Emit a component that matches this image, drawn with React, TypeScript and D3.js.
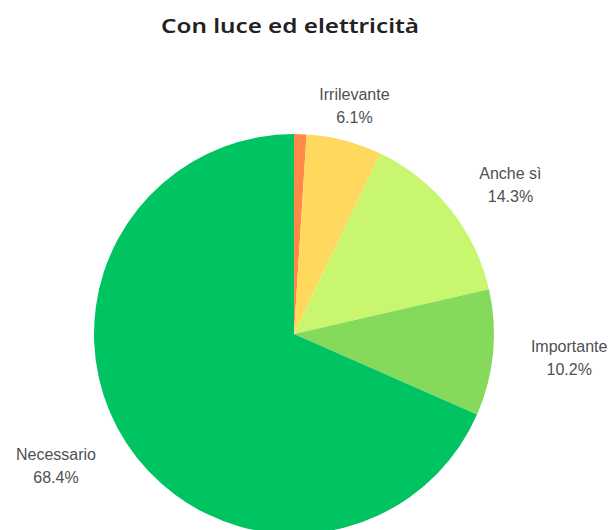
import React from "react";
import * as d3 from "d3";

const categories = ["", "Irrilevante", "Anche sì", "Importante", "Necessario"];
const values = [1.0, 6.1, 14.3, 10.2, 68.4];
const valueLabels = ["", "6.1%", "14.3%", "10.2%", "68.4%"];
const colors = ["#FF8A47", "#FFD95E", "#C9F66F", "#85DA5C", "#00C462"];

const W = 614;
const H = 530;
const cx = 294;
const cy = 334;
const R = 200;
const LABEL_FONT = "16px 'Liberation Sans', Arial, sans-serif";

function measure(text: string): number {
  const c = document.createElement("canvas").getContext("2d");
  if (!c) return text.length * 8;
  c.font = LABEL_FONT;
  return c.measureText(text).width;
}

export default function App() {
  const pie = d3.pie<number>().sort(null).value((d) => d);
  const arcs = pie(values);
  const arc = d3.arc<d3.PieArcDatum<number>>().innerRadius(0).outerRadius(R);
  const labelArc = d3.arc<d3.PieArcDatum<number>>().innerRadius(R + 40).outerRadius(R + 40);

  return (
    <div style={{ position: "absolute", left: 0, top: 0 }}>
      <svg width={W} height={H} style={{ display: "block", background: "#fff" }}>
        <text
          x={290}
          y={33}
          textAnchor="middle"
          fontFamily="'Noto Sans', sans-serif"
          fontWeight={600}
          fontSize={19}
          fill="#222"
          textLength={258}
          lengthAdjust="spacingAndGlyphs"
        >
          Con luce ed elettricità
        </text>
        <g transform={`translate(${cx},${cy})`}>
          {arcs.map((a, i) => (
            <path key={i} d={arc(a) || ""} fill={colors[i]} />
          ))}
          {arcs.map((a, i) => {
            if (!categories[i]) return null;
            const [lx, ly] = labelArc.centroid(a);
            const mid = (a.startAngle + a.endAngle) / 2;
            const s = Math.sin(mid);
            const w = Math.max(measure(categories[i]), measure(valueLabels[i]));
            const side = s > 0.5 ? 1 : s < -0.5 ? -1 : 0;
            const x = side === 1 ? lx - 2 + w / 2 : side === -1 ? lx + 3 - w / 2 : lx;
            const y = ly - (side === 0 ? 2 : 5);
            return (
              <g
                key={"l" + i}
                fontFamily="'Liberation Sans', Arial, sans-serif"
                fontSize={16}
                fill="#505050"
                textAnchor="middle"
              >
                <text x={x} y={y}>{categories[i]}</text>
                <text x={x} y={y + 23}>{valueLabels[i]}</text>
              </g>
            );
          })}
        </g>
      </svg>
    </div>
  );
}
